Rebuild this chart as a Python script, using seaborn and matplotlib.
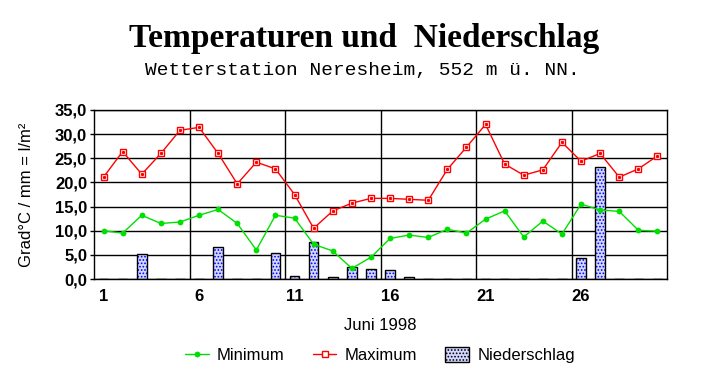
import numpy as np
import pandas as pd
import matplotlib
matplotlib.use("Agg")
import matplotlib.pyplot as plt
from matplotlib.patches import Rectangle
from matplotlib.lines import Line2D
from matplotlib.ticker import FuncFormatter, FixedLocator
import seaborn as sns

days = list(range(1, 31))
tmin = [10.0, 9.5, 13.2, 11.5, 11.8, 13.2, 14.4, 11.5, 6.0, 13.2,
        12.6, 7.2, 5.8, 2.2, 4.5, 8.4, 9.1, 8.6, 10.3, 9.5,
        12.4, 14.1, 8.7, 12.0, 9.3, 15.5, 14.3, 14.0, 10.1, 9.9]
tmax = [21.1, 26.4, 21.7, 26.0, 30.8, 31.4, 26.0, 19.7, 24.2, 22.8,
        17.5, 10.5, 14.1, 15.7, 16.7, 16.7, 16.5, 16.3, 22.7, 27.3,
        32.0, 23.8, 21.5, 22.6, 28.3, 24.4, 26.0, 21.1, 22.8, 25.5]
precip = [0.0, 0.0, 5.1, 0.0, 0.0, 0.0, 6.6, 0.0, 0.0, 5.3,
          0.6, 7.7, 0.35, 2.4, 2.1, 1.9, 0.35, 0.1, 0.0, 0.0,
          0.0, 0.0, 0.0, 0.0, 0.1, 4.3, 23.2, 0.0, 0.0, 0.1]
xtick_labels = ["1", "6", "11", "16", "21", "26"]
yticks = [0, 5, 10, 15, 20, 25, 30, 35]

df = pd.DataFrame({"Tag": days, "Minimum": tmin, "Maximum": tmax, "Niederschlag": precip})

sns.set_theme(style="white")
plt.rcParams["font.family"] = ["Liberation Sans", "DejaVu Sans"]
plt.rcParams["hatch.linewidth"] = 0.8

fig = plt.figure(figsize=(7.25, 3.84), dpi=100)
ax = fig.add_axes([94 / 725, 1 - 279 / 384, (667 - 94) / 725, (279 - 110) / 384])

GREEN = "#00e000"
RED = "#ff0000"
BLUE = "#0000ff"
BARFACE = "#d4d8ff"

# precipitation bars
sns.barplot(data=df, x="Tag", y="Niederschlag", native_scale=True, width=0.5,
            errorbar=None, ax=ax, color="white", zorder=2)
bars = list(ax.patches)
for p in bars:
    p.set_facecolor(BARFACE)
    p.set_edgecolor(BLUE)
    p.set_hatch(".....")
    p.set_linewidth(0)
    ax.add_patch(Rectangle(p.get_xy(), p.get_width(), p.get_height(),
                           fill=False, edgecolor="black", linewidth=1.0, zorder=3))

# temperature lines
sns.lineplot(data=df, x="Tag", y="Minimum", ax=ax, color=GREEN, linewidth=1.0,
             marker="o", markersize=4.2, markeredgewidth=0, markerfacecolor=GREEN,
             zorder=4)
sns.lineplot(data=df, x="Tag", y="Maximum", ax=ax, color=RED, linewidth=1.0,
             marker="s", markersize=5, markeredgewidth=1.0, markerfacecolor="white",
             markeredgecolor=RED, zorder=4)
ax.plot(df["Tag"], df["Maximum"], linestyle="none", marker="s", markersize=1.2,
        color=RED, zorder=5)

ax.set_xlim(0.5, 30.5)
ax.set_ylim(0, 35)
ax.set_yticks(yticks)
ax.yaxis.set_major_formatter(FuncFormatter(lambda v, _: f"{v:.1f}".replace(".", ",")))
ax.set_xticks([int(s) for s in xtick_labels])
ax.set_xticklabels(xtick_labels)
ax.xaxis.set_minor_locator(FixedLocator(np.arange(0.5, 31, 1.0)))
ax.tick_params(axis="x", which="major", length=0, pad=7, labelsize=12)
ax.tick_params(axis="x", which="minor", length=4, width=1, direction="inout", color="black")
ax.tick_params(axis="y", which="major", length=3, width=1, direction="out", pad=2,
               labelsize=12, color="black", left=True)
for lab in ax.get_xticklabels() + ax.get_yticklabels():
    lab.set_fontweight("bold")
    lab.set_color("black")

ax.grid(False)
for v in yticks:
    ax.axhline(v, color="black", linewidth=1.0, zorder=1)
for b in [5.5, 10.5, 15.5, 20.5, 25.5]:
    ax.axvline(b, color="black", linewidth=1.0, zorder=1)
for s in ax.spines.values():
    s.set_visible(True)
    s.set_color("black")
    s.set_linewidth(1.0)
ax.set_xlabel("")
ax.set_ylabel("")
ax.set_facecolor("white")

fig.text(364 / 725, 1 - 38 / 384, "Temperaturen und  Niederschlag", ha="center", va="center",
         fontsize=24, fontweight="bold", family="Liberation Serif", color="black")
fig.text(362 / 725, 1 - 71 / 384, "Wetterstation Neresheim, 552 m ü. NN.", ha="center",
         va="center", fontsize=14, family="Liberation Mono", color="black")
fig.text(27 / 725, 1 - 195 / 384, "Grad°C / mm = l/m²", rotation=90, ha="center",
         va="center", fontsize=12, color="black")
fig.text(380 / 725, 1 - 325 / 384, "Juni 1998", ha="center", va="center", fontsize=12,
         color="black")

handles = [
    Line2D([], [], color=GREEN, linewidth=1.0, marker="o", markersize=4.2,
           markeredgewidth=0, markerfacecolor=GREEN),
    Line2D([], [], color=RED, linewidth=1.0, marker="s", markersize=5,
           markerfacecolor="white", markeredgecolor=RED),
    Rectangle((0, 0), 1, 1, facecolor=BARFACE, edgecolor="black", hatch=".....",
              linewidth=1.0),
]
leg = fig.legend(handles, ["Minimum", "Maximum", "Niederschlag"], loc="center",
                 bbox_to_anchor=(380 / 725, 1 - 355 / 384), ncol=3, frameon=False,
                 fontsize=12, handlelength=1.4, handleheight=1.0, handletextpad=0.5,
                 columnspacing=1.7, markerscale=1.0)
for t in leg.get_texts():
    t.set_color("black")

fig.savefig("out.png", dpi=100, facecolor="white")
